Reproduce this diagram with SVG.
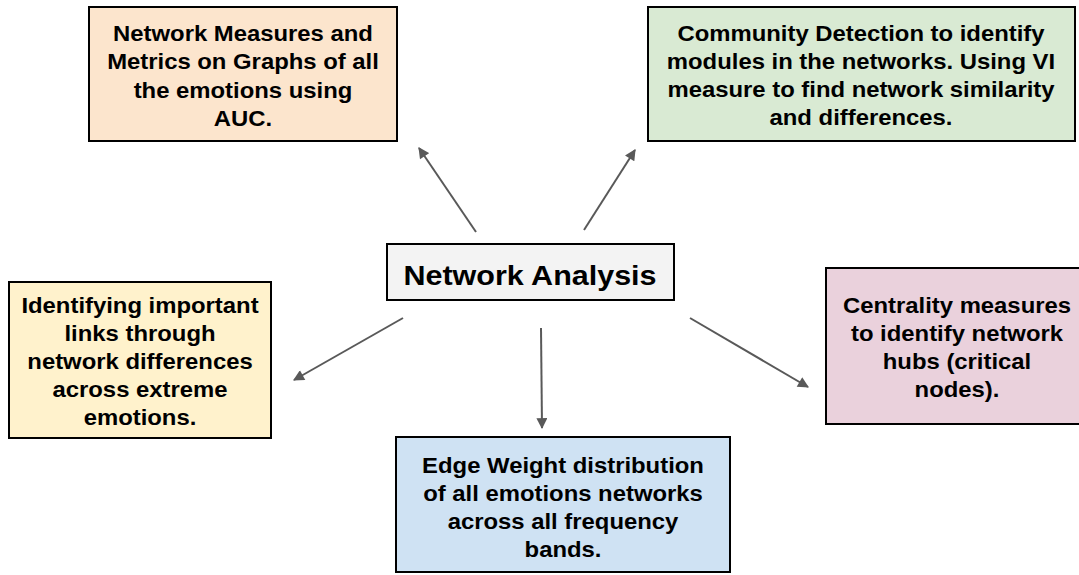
<svg xmlns="http://www.w3.org/2000/svg" width="1079" height="575" viewBox="0 0 1079 575">
<style>
.box{stroke:#000;stroke-width:2}
.t{font-family:"Liberation Sans",Arial,sans-serif;font-weight:bold;font-size:22px;fill:#000;text-anchor:middle}
.big{font-size:28px}
.c{stroke:#595959;stroke-width:2;fill:none;marker-end:url(#ah)}
</style>
<defs>
<marker id="ah" viewBox="0 0 10 10" refX="9" refY="5" markerWidth="6" markerHeight="5.5" orient="auto" markerUnits="strokeWidth">
<path d="M0,0 L10,5 L0,10 z" fill="#595959"/>
</marker>
</defs>
<rect width="1079" height="575" fill="#fff"/>
<g id="connectors">
<line class="c" x1="476" y1="232" x2="419" y2="148"/>
<line class="c" x1="584" y1="230" x2="635" y2="150"/>
<line class="c" x1="403" y1="318" x2="294" y2="380"/>
<line class="c" x1="541" y1="328" x2="542" y2="428"/>
<line class="c" x1="690" y1="318" x2="808" y2="387"/>
</g>
<g id="n-metrics">
<rect class="box" x="89" y="7" width="308" height="134" fill="#fce5cd"/>
<g transform="translate(243,0) scale(1.085,1)">
<text class="t" x="0" y="41">Network Measures and</text>
<text class="t" x="0" y="69">Metrics on Graphs of all</text>
<text class="t" x="0" y="98">the emotions using</text>
<text class="t" x="0" y="126">AUC.</text>
</g>
</g>
<g id="n-community">
<rect class="box" x="648" y="7" width="427" height="134" fill="#d9ead3"/>
<g transform="translate(861,0) scale(1.085,1)">
<text class="t" x="0" y="41">Community Detection to identify</text>
<text class="t" x="0" y="69">modules in the networks. Using VI</text>
<text class="t" x="0" y="97">measure to find network similarity</text>
<text class="t" x="0" y="125">and differences.</text>
</g>
</g>
<g id="n-center">
<rect class="box" x="387" y="244" width="287" height="56" fill="#f3f3f3"/>
<g transform="translate(530,0) scale(1.09,1)">
<text class="t big" x="0" y="285">Network Analysis</text>
</g>
</g>
<g id="n-links">
<rect class="box" x="9" y="282" width="262" height="156" fill="#fff2cc"/>
<g transform="translate(140,0) scale(1.085,1)">
<text class="t" x="0" y="313">Identifying important</text>
<text class="t" x="0" y="341">links through</text>
<text class="t" x="0" y="369">network differences</text>
<text class="t" x="0" y="397">across extreme</text>
<text class="t" x="0" y="425">emotions.</text>
</g>
</g>
<g id="n-centrality">
<rect class="box" x="826" y="268" width="258" height="156" fill="#ead1dc"/>
<g transform="translate(957,0) scale(1.085,1)">
<text class="t" x="0" y="313">Centrality measures</text>
<text class="t" x="0" y="341">to identify network</text>
<text class="t" x="0" y="369">hubs (critical</text>
<text class="t" x="0" y="397">nodes).</text>
</g>
</g>
<g id="n-edge">
<rect class="box" x="396" y="437" width="334" height="135" fill="#cfe2f3"/>
<g transform="translate(563,0) scale(1.085,1)">
<text class="t" x="0" y="473">Edge Weight distribution</text>
<text class="t" x="0" y="501">of all emotions networks</text>
<text class="t" x="0" y="529">across all frequency</text>
<text class="t" x="0" y="557">bands.</text>
</g>
</g>
</svg>
